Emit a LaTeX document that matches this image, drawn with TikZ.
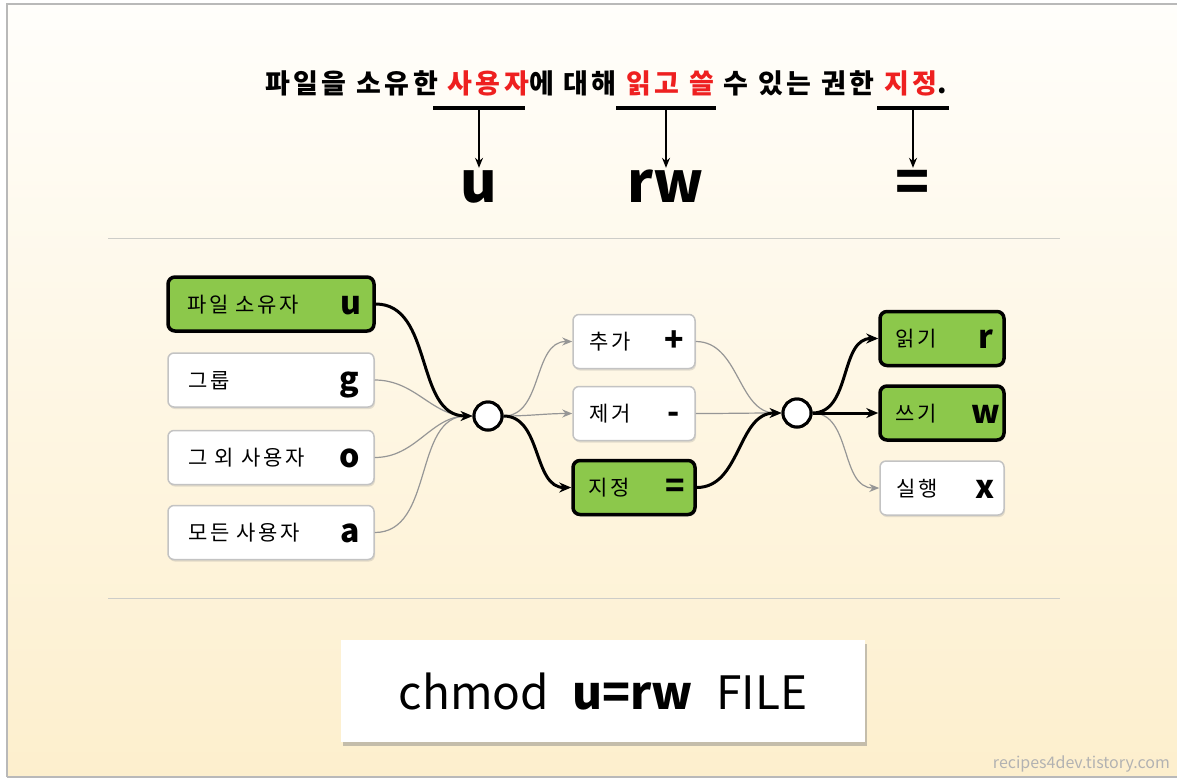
\documentclass[tikz,border=0pt]{standalone}
\usepackage{fontspec}
\setmainfont{Noto Sans CJK KR}
\usetikzlibrary{arrows.meta,shadows}
\definecolor{bgtop}{RGB}{255,254,251}
\definecolor{bgbot}{RGB}{253,239,205}
\definecolor{mygreen}{RGB}{140,200,75}
\definecolor{wborder}{RGB}{195,195,195}
\definecolor{tred}{RGB}{238,32,32}
\definecolor{thingray}{RGB}{150,150,150}
\definecolor{sepgray}{RGB}{205,205,200}
\definecolor{framegray}{RGB}{185,185,185}
\begin{document}
\begin{tikzpicture}[x=1pt,y=-1pt,
  boxbase/.style={inner sep=0pt, drop shadow={shadow xshift=1pt, shadow yshift=-2pt, opacity=0.22}},
  wbox/.style={boxbase, draw=wborder, line width=1.5pt, fill=white, rounded corners=6pt},
  gbox/.style={boxbase, draw=black, line width=3.5pt, fill=mygreen, rounded corners=7pt},
  lbox/.style={minimum width=206pt, minimum height=54pt},
  mbox/.style={minimum width=122pt, minimum height=54pt},
  rbox/.style={minimum width=124pt, minimum height=54pt},
  klabel/.style={anchor=base west, inner sep=0pt, font=\fontsize{21}{21}\selectfont\addfontfeatures{LetterSpace=12}},
  kletter/.style={anchor=base, inner sep=0pt, font=\fontsize{32}{32}\selectfont\bfseries},
  hub/.style={circle, draw=black, line width=3pt, fill=white, minimum size=28pt, inner sep=0pt},
  thinarrow/.style={draw=thingray, line width=1.2pt, -{Stealth[length=10pt,width=8pt]}},
  thickarrow/.style={draw=black, line width=3pt, -{Stealth[length=12pt,width=10pt]}},
  bar/.style={draw=black, line width=3.5pt},
  tarrow/.style={draw=black, line width=1.2pt, -{Stealth[length=10pt,width=8pt]}},
  bigletter/.style={anchor=base, inner sep=0pt, text height=34pt, text depth=0pt, font=\fontsize{56}{56}\selectfont\bfseries},
  sep/.style={draw=sepgray, line width=1pt}
]
\useasboundingbox (0,0) rectangle (1177,780);
% background and frame
\fill[white] (0,0) rectangle (1177,780);
\shade[top color=bgtop, bottom color=bgbot] (7,4) rectangle (1190,777);
\draw[framegray, line width=2pt] (7,777) -- (7,4) -- (1190,4);
\draw[framegray, line width=2pt] (7,777) -- (1190,777);

% title
\node[inner sep=0pt, font=\fontsize{27}{27}\selectfont\bfseries\addfontfeatures{LetterSpace=13}] (title) at (606,83)
  {파일을 소유한 \textcolor{tred}{사용자}에 대해 \textcolor{tred}{읽고 쓸} 수 있는 권한 \textcolor{tred}{지정}.};
\coordinate (bar1) at (479,108);
\coordinate (bar2) at (666,108);
\coordinate (bar3) at (913,108);
\draw[bar] ([xshift=-46pt]bar1) -- ([xshift=46pt]bar1);
\draw[bar] ([xshift=-50pt]bar2) -- ([xshift=50pt]bar2);
\draw[bar] ([xshift=-36pt]bar3) -- ([xshift=36pt]bar3);
\node[bigletter] (bu) at (479,202) {u};
\node[bigletter] (brw) at (666,202) {rw};
\node[bigletter] (beq) at (913,202) {=};
\draw[tarrow] (bar1) -- (bu.north);
\draw[tarrow] (bar2) -- (brw.north);
\draw[tarrow] (bar3) -- (beq.north);

% separators
\coordinate (s1a) at (108,238); \coordinate (s1b) at (1060,238);
\coordinate (s2a) at (108,598); \coordinate (s2b) at (1060,598);
\draw[sep] (s1a) -- (s1b);
\draw[sep] (s2a) -- (s2b);

% left boxes
\node[gbox,lbox] (b1) at (271,304) {};
\node[wbox,lbox] (b2) at (271,380) {};
\node[wbox,lbox] (b3) at (271,457.5) {};
\node[wbox,lbox] (b4) at (271,532.5) {};
\node[klabel] (l1) at ([xshift=21pt,yshift=-8pt]b1.west) {파일 소유자};
\node[klabel] (l2) at ([xshift=21pt,yshift=-8pt]b2.west) {그룹};
\node[klabel] (l3) at ([xshift=21pt,yshift=-8pt]b3.west) {그 외 사용자};
\node[klabel] (l4) at ([xshift=21pt,yshift=-8pt]b4.west) {모든 사용자};
\node[kletter] (k1) at ([xshift=-25pt,yshift=-10pt]b1.east) {u};
\node[kletter] (k2) at ([xshift=-25pt,yshift=-10pt]b2.east) {g};
\node[kletter] (k3) at ([xshift=-25pt,yshift=-10pt]b3.east) {o};
\node[kletter] (k4) at ([xshift=-25pt,yshift=-10pt]b4.east) {a};

% hub 1
\node[hub] (h1) at (488,416) {};

% middle boxes
\node[wbox,mbox] (m1) at (634,341.5) {};
\node[wbox,mbox] (m2) at (634,413.5) {};
\node[gbox,mbox] (m3) at (634,487.5) {};
\node[klabel] (ml1) at ([xshift=17pt,yshift=-8pt]m1.west) {추가};
\node[klabel] (ml2) at ([xshift=17pt,yshift=-8pt]m2.west) {제거};
\node[klabel] (ml3) at ([xshift=17pt,yshift=-8pt]m3.west) {지정};
\node[kletter] (mk1) at ([xshift=-22pt,yshift=-10pt]m1.east) {+};
\node[kletter] (mk2) at ([xshift=-22pt,yshift=-10pt]m2.east) {-};
\node[kletter] (mk3) at ([xshift=-22pt,yshift=-10pt]m3.east) {=};

% hub 2
\node[hub] (h2) at (797,413) {};

% right boxes
\node[gbox,rbox] (r1) at (942,338.5) {};
\node[gbox,rbox] (r2) at (942,413) {};
\node[wbox,rbox] (r3) at (942,488) {};
\node[klabel] (rl1) at ([xshift=17pt,yshift=-8pt]r1.west) {읽기};
\node[klabel] (rl2) at ([xshift=17pt,yshift=-8pt]r2.west) {쓰기};
\node[klabel] (rl3) at ([xshift=17pt,yshift=-8pt]r3.west) {실행};
\node[kletter] (rk1) at ([xshift=-20pt,yshift=-10pt]r1.east) {r};
\node[kletter] (rk2) at ([xshift=-20pt,yshift=-10pt]r2.east) {w};
\node[kletter] (rk3) at ([xshift=-20pt,yshift=-10pt]r3.east) {x};

% connectors: left -> hub1
\draw[thinarrow] (b2.east) to[out=0,in=180] (h1.west);
\draw[thinarrow] (b3.east) to[out=0,in=180] (h1.west);
\draw[thinarrow] (b4.east) to[out=0,in=180] (h1.west);
\draw[thickarrow] (b1.east) to[out=0,in=180] (h1.west);
% hub1 -> middle
\draw[thinarrow] (h1.east) to[out=0,in=180] (m1.west);
\draw[thinarrow] (h1.east) to[out=0,in=180] (m2.west);
\draw[thickarrow] (h1.east) to[out=0,in=180] (m3.west);
% middle -> hub2
\draw[thinarrow] (m1.east) to[out=0,in=180] (h2.west);
\draw[thinarrow] (m2.east) to[out=0,in=180] (h2.west);
\draw[thickarrow] (m3.east) to[out=0,in=180] (h2.west);
% hub2 -> right
\draw[thinarrow] (h2.east) to[out=0,in=180] (r3.west);
\draw[thickarrow] (h2.east) to[out=0,in=180] (r1.west);
\draw[thickarrow] (h2.east) to[out=0,in=180] (r2.west);
% redraw hubs on top
\node[hub] at (h1) {};
\node[hub] at (h2) {};

% command box
\node[fill=white, minimum width=524pt, minimum height=102pt, inner sep=0pt,
  drop shadow={shadow xshift=2pt, shadow yshift=-4pt, opacity=0.45},
  font=\fontsize{46}{46}\selectfont] (cmd) at (603,691)
  {chmod\hspace{0.5em}\textbf{u=rw}\hspace{0.5em}FILE};

% watermark
\node[anchor=base east, inner sep=0pt, text=gray!60, font=\fontsize{16}{16}\selectfont] (wm) at (1170,768) {recipes4dev.tistory.com};
\end{tikzpicture}
\end{document}
